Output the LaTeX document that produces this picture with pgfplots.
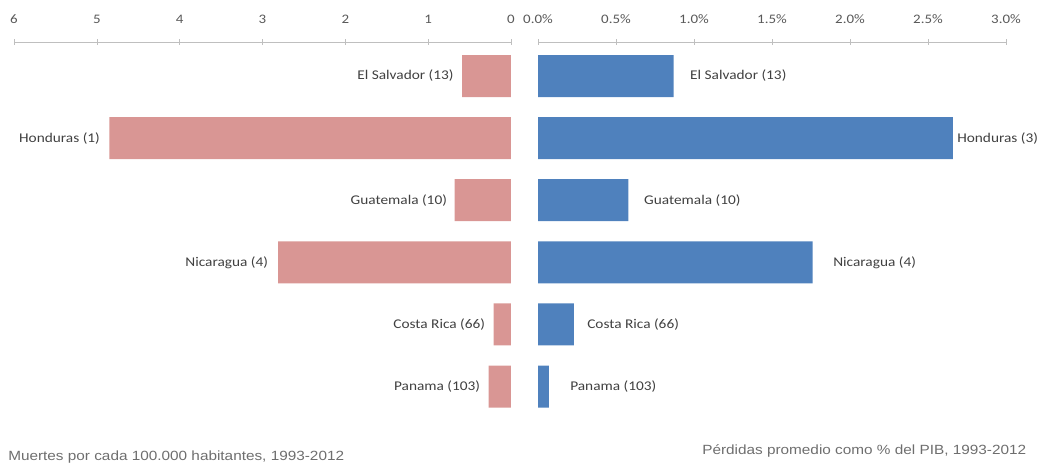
\documentclass[border=0pt]{standalone}
\usepackage{fontspec}
\setmainfont{Carlito}[FakeStretch=1.15]
\newfontfamily\capfont{Liberation Sans}[FakeStretch=1.15]
\usepackage{pgfplots}
\usepackage{pgfplotstable}
\pgfplotsset{compat=1.18}

\definecolor{rosa}{HTML}{D99694}
\definecolor{azul}{HTML}{4F81BD}
\definecolor{txt}{HTML}{404040}
\definecolor{ticktxt}{HTML}{595959}
\definecolor{linea}{HTML}{BFBFBF}
\definecolor{pie}{HTML}{6E6E6E}

% muertes por cada 100.000 habitantes
\pgfplotstableread{
x y
0.59 5
4.85 4
0.68 3
2.81 2
0.21 1
0.27 0
}\muertes
\pgfplotstableread[col sep=comma]{
x,y,lab
0.69,5,El Salvador (13)
4.96,4,Honduras (1)
0.77,3,Guatemala (10)
2.93,2,Nicaragua (4)
0.31,1,Costa Rica (66)
0.37,0,Panama (103)
}\muerteslab

% perdidas como % del PIB
\pgfplotstableread{
x y
0.87 5
2.66 4
0.58 3
1.76 2
0.23 1
0.07 0
}\perdidas
\pgfplotstableread[col sep=comma]{
x,y,lab
0.974,5,El Salvador (13)
2.686,4,Honduras (3)
0.679,3,Guatemala (10)
1.891,2,Nicaragua (4)
0.314,1,Costa Rica (66)
0.205,0,Panama (103)
}\perdidaslab

\pgfplotsset{
  mitad/.style={
    scale only axis, height=291pt, ymin=-0.70, ymax=5.548,
    axis x line*=top, axis y line=none, ytick=\empty,
    x axis line style={linea, -},
    xtick style={linea, thin},
    major tick length=4pt, tick align=center,
    xticklabel style={font=\fontsize{9.75}{10}\selectfont, text=ticktxt, yshift=8pt},
    /pgf/number format/assume math mode=true,
    clip=false, anchor=north west,
  },
  barras/.style={xbar, bar width=31.5pt, bar shift=0pt, draw=none, fill=#1},
  etiquetas/.style={only marks, mark=text, text mark={},
    nodes near coords, point meta=explicit symbolic,
    every node near coord/.style={anchor=#1, inner sep=0pt,
      font=\fontsize{10}{11}\selectfont, text=txt}},
}

\begin{document}
\begin{tikzpicture}
\path[use as bounding box] (0,0) rectangle (783.75pt,-348pt);

\begin{axis}[mitad, at={(10.5pt,-31.5pt)}, width=372.75pt,
    x dir=reverse, xmin=0, xmax=6, xtick={0,1,...,6}]
  \addplot[barras=rosa] table[x=x, y=y] {\muertes};
  \addplot[etiquetas=east] table[x=x, y=y, meta=lab] {\muerteslab};
\end{axis}

\begin{axis}[mitad, at={(403.5pt,-31.5pt)}, width=351pt,
    xmin=0, xmax=3, xtick={0,0.5,...,3},
    xticklabels={0.0\%,0.5\%,1.0\%,1.5\%,2.0\%,2.5\%,3.0\%}]
  \addplot[barras=azul] table[x=x, y=y] {\perdidas};
  \addplot[etiquetas=west] table[x=x, y=y, meta=lab] {\perdidaslab};
\end{axis}

\node[anchor=base west, inner sep=0pt, text=pie, font=\capfont\fontsize{10}{12}\selectfont]
  at (6pt,-345pt) {Muertes por cada 100.000 habitantes, 1993-2012};
\node[anchor=base west, inner sep=0pt, text=pie, font=\capfont\fontsize{10}{12}\selectfont]
  at (526.5pt,-340.5pt) {Pérdidas promedio como \% del PIB, 1993-2012};
\end{tikzpicture}
\end{document}
